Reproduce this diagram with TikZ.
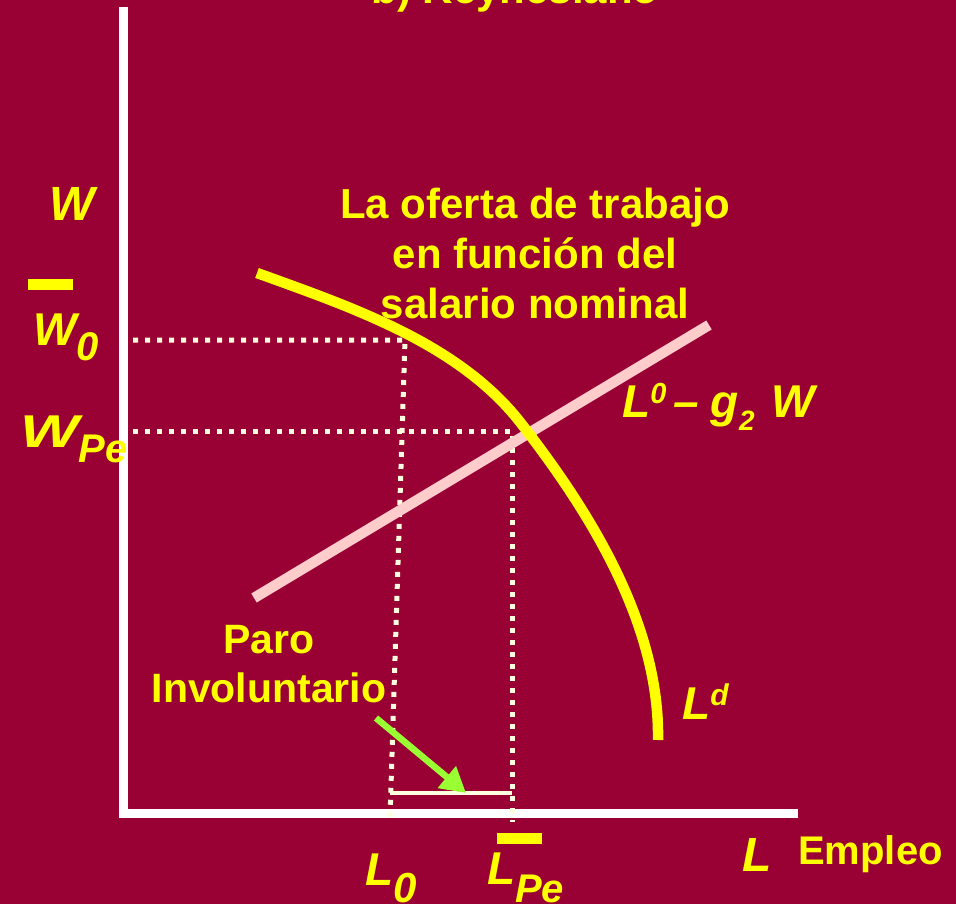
\documentclass[tikz,border=0pt]{standalone}
\usepackage{fontspec}
\setmainfont{Liberation Sans}
\usetikzlibrary{arrows.meta}
\definecolor{bg}{HTML}{990033}
\definecolor{ylw}{HTML}{FFFF00}
\definecolor{pinkl}{HTML}{FFCCCC}
\definecolor{cream}{HTML}{FFFFE0}
\definecolor{grn}{HTML}{99FF33}
\newcommand{\myfs}[1]{\fontsize{#1}{#1}\selectfont}
\begin{document}
\begin{tikzpicture}[x=1pt,y=-1pt,
  lbl/.style={text=ylw, inner sep=0pt, anchor=base west, font=\bfseries\itshape\myfs{46}},
  txt/.style={text=ylw, inner sep=0pt, anchor=base, align=center},
  dots/.style={cream, line width=5pt, dash pattern=on 5pt off 7pt},
  axisline/.style={white, line width=9pt},
  bar/.style={fill=ylw},
]
\fill[bg] (0,0) rectangle (956,904);
\useasboundingbox (0,0) rectangle (956,904);

% coordinates
\coordinate (ytop) at (123,7);
\coordinate (corner) at (123,813);
\coordinate (xend) at (798,813);
\coordinate (w0y) at (133,340);
\coordinate (w0c) at (405,340);
\coordinate (l0b) at (390,818);
\coordinate (wpy) at (133,431);
\coordinate (wpc) at (512,431);
\coordinate (lpb) at (512,822);
\coordinate (brl) at (390,793);
\coordinate (brr) at (512,793);
\coordinate (gs) at (376,718);
\coordinate (gt) at (466,793);

% axes
\draw[axisline] (ytop) -- (123,817.5);
\draw[axisline] (118.5,813) -- (xend);

% dotted guides
\draw[dots] (w0y) -- (w0c) -- (l0b);
\draw[dots] (wpy) -- (wpc) -- (lpb);

% curves
\draw[pinkl, line width=10.5pt] (254,598) -- (709,325);
\draw[ylw, line width=10.5pt] (257,273) .. controls (351,307) and (458,343) .. (520,422)
  .. controls (591,513) and (660,625) .. (658,740);

% bracket and arrow
\draw[cream, line width=4pt] (brl) -- (brr);
\draw[grn, line width=6.5pt, -{Triangle[width=27pt,length=25pt]}] (gs) -- (gt);

% bars
\fill[bar] (28,279) rectangle (73,290);
\fill[bar] (497,833) rectangle (542,844);

% texts
\node[txt, font=\bfseries\myfs{42}] (title) at (515,4) {b) Keynesiano};
\node[txt, font=\bfseries\fontsize{42}{50}\selectfont] (oferta) at (535,318)
  {La oferta de trabajo\\en función del\\salario nominal};
\node[txt, font=\bfseries\fontsize{41}{49}\selectfont] (paro) at (269,702)
  {Paro\\Involuntario};
\node[txt, anchor=base west, font=\bfseries\myfs{40}] (empleo) at (798,864) {Empleo};

\node[lbl, font=\bfseries\itshape\myfs{48}] (W) at (49,221) {W};
\node[lbl] (W0) at (33,345) {W\raisebox{-15pt}{\myfs{40}0}};
\node[lbl] (WPe) at (20,447) {\scalebox{1.35}[1]{W}\raisebox{-15pt}{\myfs{40}Pe}};
\node[lbl] (supply) at (622,417) {L\raisebox{14pt}{\myfs{29}0}\hspace{7pt}–\hspace{12pt}g\raisebox{-13pt}{\myfs{28}2}\hspace{17pt}W};
\node[lbl] (Ld) at (682,719) {L\raisebox{14pt}{\myfs{30}d}};
\node[lbl, font=\bfseries\itshape\myfs{48}] (Lax) at (742,871) {L};
\node[lbl] (L0) at (365,885) {L\raisebox{-17pt}{\myfs{42}0}};
\node[lbl] (LPe) at (487,884) {L\raisebox{-18pt}{\myfs{40}Pe}};
\end{tikzpicture}
\end{document}
